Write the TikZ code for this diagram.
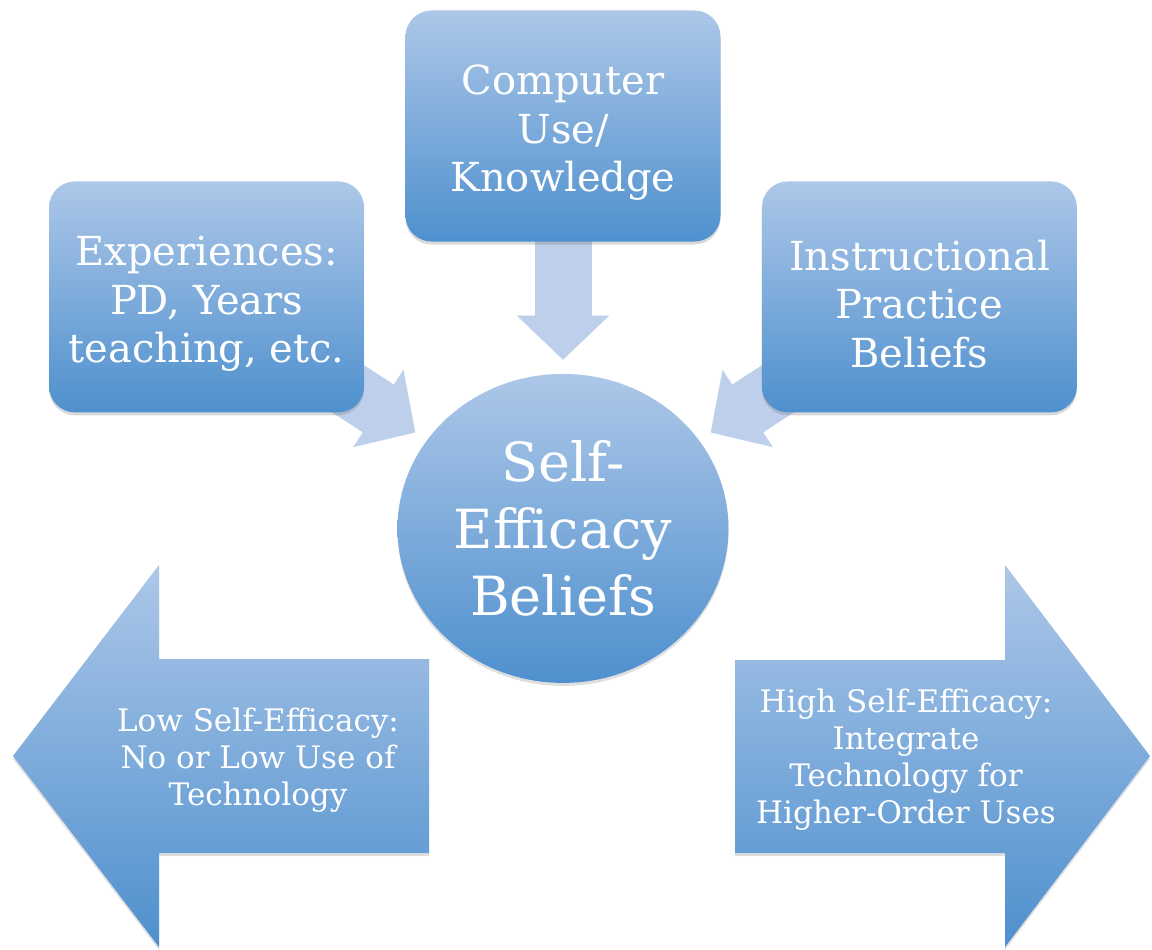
\documentclass[tikz,border=0pt]{standalone}
\usepackage{fontspec}
\setmainfont{DejaVu Serif}
\usetikzlibrary{arrows.meta}
\usetikzlibrary{positioning}
\usetikzlibrary{shapes.geometric}
\usetikzlibrary{shadows}
\usetikzlibrary{backgrounds}

\definecolor{shadetop}{RGB}{173,199,232}
\definecolor{shadebot}{RGB}{78,144,206}
\definecolor{linkblue}{RGB}{189,207,234}

\begin{document}
\begin{tikzpicture}[x=1pt,y=-1pt,
  main node/.style={rectangle,rounded corners=26pt,top color=shadetop,bottom color=shadebot,
    minimum width=315pt,minimum height=231pt,inner sep=0pt,
    drop shadow={shadow xshift=0pt,shadow yshift=-3pt,opacity=.3}},
  box text/.style={text=white,align=center,font=\fontsize{40}{48.5}\selectfont,yshift=-7pt},
  core node/.style={ellipse,top color=shadetop,bottom color=shadebot,
    minimum width=331pt,minimum height=309pt,inner sep=0pt,text=white,align=center,
    font=\fontsize{54}{67}\selectfont,
    drop shadow={shadow xshift=0pt,shadow yshift=-3pt,opacity=.25}},
  fat arrow/.style={top color=shadetop,bottom color=shadebot,
    drop shadow={shadow xshift=0pt,shadow yshift=-3pt,opacity=.25}},
  fat text/.style={text=white,align=center,font=\fontsize{31}{37}\selectfont},
  link/.style={draw=linkblue,line width=57pt,
    -{Triangle[length=44pt,width=92pt,line width=0.1pt]},shorten >=14pt}]

  \useasboundingbox (0,0) rectangle (1152,950);

  \node[main node,label={[box text]center:{Computer\\Use/\\Knowledge}}] (CUK) at (563,126) {};
  \node[core node] (SEB) [below = 132pt of CUK] {Self-\\Efficacy\\Beliefs};
  \node[main node,label={[box text]center:{Experiences:\\PD, Years\\teaching, etc.}}] (EXP)
    [below left = -60.5pt and 41pt of CUK] {};
  \node[main node,label={[box text]center:{Instructional\\Practice\\Beliefs}}] (IPB)
    [below right = -60.5pt and 41pt of CUK] {};

  % outcome arrows
  \path[fat arrow] (13,756) -- (159,565) -- (159,659) -- (429,659) -- (429,853)
    -- (159,853) -- (159,947) -- cycle;
  \path[fat arrow] (1150,756) -- (1005,565) -- (1005,660) -- (735,660) -- (735,853)
    -- (1005,853) -- (1005,947) -- cycle;
  \node[fat text] (LSE) at (258,760) {Low Self-Efficacy:\\No or Low Use of\\Technology};
  \node[fat text] (HSE) at (906,760) {High Self-Efficacy:\\Integrate\\Technology for\\Higher-Order Uses};

  \begin{scope}[on background layer]
  \path (CUK.center) edge[link] (SEB)
        (EXP.center) edge[link] (SEB)
        (IPB.center) edge[link] (SEB);
  \end{scope}

\end{tikzpicture}
\end{document}
